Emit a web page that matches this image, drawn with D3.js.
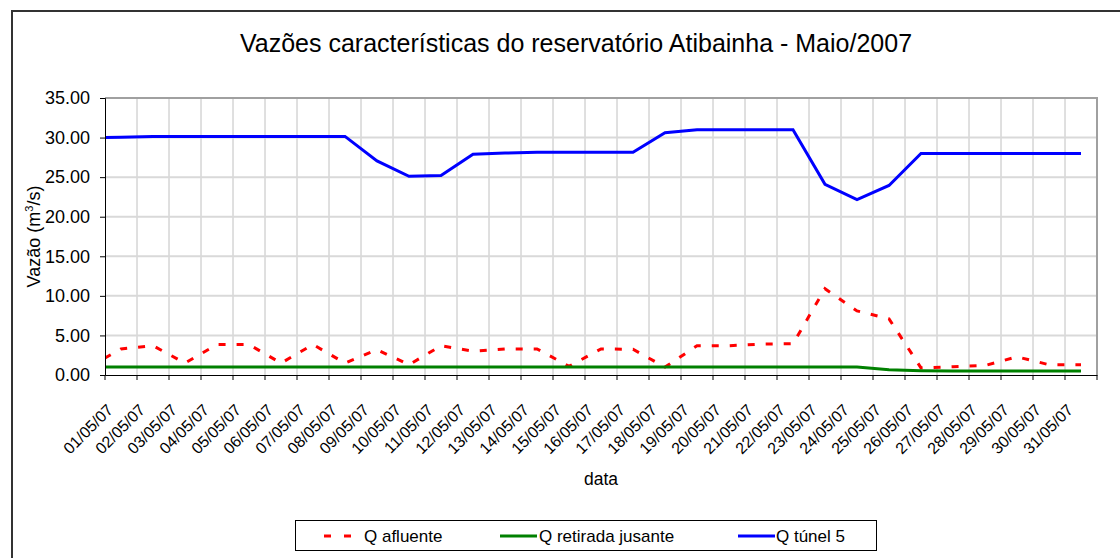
<!DOCTYPE html>
<html>
<head>
<meta charset="utf-8">
<script src="https://cdn.jsdelivr.net/npm/d3@7"></script>
<style>
  body { margin: 0; background: #fff; }
  text { font-family: Arial, "Liberation Sans", sans-serif; fill: #000; }
</style>
</head>
<body>
<div id="chartContainer"></div>
<script>
const dates = ["01/05/07","02/05/07","03/05/07","04/05/07","05/05/07","06/05/07","07/05/07","08/05/07",
  "09/05/07","10/05/07","11/05/07","12/05/07","13/05/07","14/05/07","15/05/07","16/05/07","17/05/07",
  "18/05/07","19/05/07","20/05/07","21/05/07","22/05/07","23/05/07","24/05/07","25/05/07","26/05/07",
  "27/05/07","28/05/07","29/05/07","30/05/07","31/05/07"];

// day before the axis starts (only its segment toward 01/05 shows, clipped)
const prevAfluente = 1.0, prevJusante = 1.0, prevTunel = 29.95;

const qAfluente = [3.3,3.7,1.5,3.85,3.85,1.5,3.85,1.5,3.2,1.3,3.7,3.0,3.3,3.3,1.1,3.3,3.25,1.0,3.7,3.7,
  3.9,3.95,10.9,8.1,7.1,0.9,1.05,1.2,2.3,1.3,1.3];
const qJusante = [1,1,1,1,1,1,1,1,1,1,1,1,1,1,1,1,1,1,1,1,1,1,1,1,0.65,0.55,0.5,0.5,0.5,0.5,0.5];
const qTunel = [30.05,30.15,30.15,30.15,30.15,30.15,30.15,30.15,27.05,25.1,25.2,27.9,28.05,28.15,28.15,28.15,28.15,
  30.6,31.0,31.0,31.0,31.0,24.1,22.15,23.95,28.0,28.0,28.0,28.0,28.0,28.0];

const yTicks = [0,5,10,15,20,25,30,35];

const svgWidth = 1120, svgHeight = 558;
const margin = { top: 98, right: 23, bottom: 183, left: 105 };
const plotRight = svgWidth - margin.right;
const plotBottom = svgHeight - margin.bottom;

const svg = d3.select("#chartContainer").append("svg")
  .attr("width", svgWidth).attr("height", svgHeight);

// chart area frame
svg.append("rect")
  .attr("x", 12).attr("y", 11).attr("width", 1200).attr("height", 700)
  .attr("fill", "#fff").attr("stroke", "#333").attr("stroke-width", 2);

svg.append("text")
  .attr("x", 576).attr("y", 52)
  .attr("text-anchor", "middle")
  .style("font-size", "25px")
  .text("Vazões características do reservatório Atibainha - Maio/2007");

const xScale = d3.scaleBand().domain(dates).range([margin.left, plotRight]);
const yScale = d3.scaleLinear().domain([0, 35]).range([plotBottom, margin.top]);
const xCenter = i => xScale(dates[0]) + xScale.step() * i + xScale.bandwidth() / 2;

// gridlines
svg.append("g").selectAll("line").data(dates.slice(1))
  .enter().append("line")
  .attr("x1", d => xScale(d)).attr("x2", d => xScale(d))
  .attr("y1", margin.top).attr("y2", plotBottom)
  .attr("stroke", "#c0c0c0").attr("stroke-width", 1);

svg.append("g").selectAll("line").data(yTicks.slice(1))
  .enter().append("line")
  .attr("x1", margin.left).attr("x2", plotRight)
  .attr("y1", d => yScale(d)).attr("y2", d => yScale(d))
  .attr("stroke", "#d9d9d9").attr("stroke-width", 2);

// plot area border top/right
svg.append("path")
  .attr("d", `M${margin.left},${margin.top}H${plotRight}V${plotBottom}`)
  .attr("fill", "none").attr("stroke", "#a0a0a0").attr("stroke-width", 2);

// lines
svg.append("clipPath").attr("id", "plotClip").append("rect")
  .attr("x", margin.left).attr("y", margin.top - 5)
  .attr("width", plotRight - margin.left).attr("height", plotBottom - margin.top + 10);

const line = d3.line().x(d => xCenter(d[0])).y(d => yScale(d[1]));
const withPrev = (prev, arr) => [[-1, prev]].concat(arr.map((v, i) => [i, v]));

const lines = svg.append("g").attr("clip-path", "url(#plotClip)");
lines.append("path").datum(withPrev(prevAfluente, qAfluente))
  .attr("d", line).attr("fill", "none")
  .attr("stroke", "#ff0000").attr("stroke-width", 3).attr("stroke-dasharray", "7,11");
lines.append("path").datum(withPrev(prevJusante, qJusante))
  .attr("d", line).attr("fill", "none")
  .attr("stroke", "#008000").attr("stroke-width", 3);
lines.append("path").datum(withPrev(prevTunel, qTunel))
  .attr("d", line).attr("fill", "none")
  .attr("stroke", "#0000ff").attr("stroke-width", 3);

// y axis
const yAxis = d3.axisLeft(yScale).tickValues(yTicks).tickFormat(d3.format(".2f")).tickSize(5).tickPadding(10);
const yG = svg.append("g").attr("transform", `translate(${margin.left},0)`).call(yAxis);
yG.select(".domain").attr("stroke", "#000");
yG.selectAll("text").style("font-size", "18px").attr("fill", "#000");

// x axis
const xAxis = d3.axisBottom(xScale).tickSize(0).tickSizeOuter(0);
const xG = svg.append("g").attr("transform", `translate(0,${plotBottom})`).call(xAxis);
xG.select(".domain").attr("stroke", "#000");
xG.selectAll(".tick text")
  .attr("x", 0).attr("y", 0).attr("dy", ".35em")
  .attr("transform", "translate(-11,32) rotate(-45)")
  .style("text-anchor", "end")
  .style("font-size", "16px");
svg.append("g").selectAll("line").data(dates.concat(["end"]))
  .enter().append("line")
  .attr("x1", (d, i) => xScale(dates[0]) + xScale.step() * i)
  .attr("x2", (d, i) => xScale(dates[0]) + xScale.step() * i)
  .attr("y1", plotBottom).attr("y2", plotBottom + 5)
  .attr("stroke", "#000");

// axis titles
svg.append("text")
  .attr("x", (margin.left + plotRight) / 2).attr("y", 485)
  .attr("text-anchor", "middle").style("font-size", "17.5px")
  .text("data");

const yTitle = svg.append("text")
  .attr("transform", `translate(40,${(margin.top + plotBottom) / 2}) rotate(-90)`)
  .attr("text-anchor", "middle").style("font-size", "18px");
yTitle.append("tspan").text("Vazão (m");
yTitle.append("tspan").attr("dy", -7).style("font-size", "11px").text("3");
yTitle.append("tspan").attr("dy", 7).text("/s)");

// legend
const legend = svg.append("g");
legend.append("rect")
  .attr("x", 295.5).attr("y", 520.5).attr("width", 581).attr("height", 30)
  .attr("fill", "#fff").attr("stroke", "#000").attr("stroke-width", 1);

const legendItems = [
  { name: "Q afluente", color: "#ff0000", dash: "7,13", x1: 324, x2: 352, tx: 364 },
  { name: "Q retirada jusante", color: "#008000", dash: null, x1: 500, x2: 537, tx: 539 },
  { name: "Q túnel 5", color: "#0000ff", dash: null, x1: 738, x2: 775, tx: 776 }
];
legendItems.forEach(d => {
  legend.append("line")
    .attr("x1", d.x1).attr("x2", d.x2).attr("y1", 536).attr("y2", 536)
    .attr("stroke", d.color).attr("stroke-width", 3)
    .attr("stroke-dasharray", d.dash);
  legend.append("text")
    .attr("x", d.tx).attr("y", 542)
    .style("font-size", "17px")
    .text(d.name);
});
</script>
</body>
</html>
